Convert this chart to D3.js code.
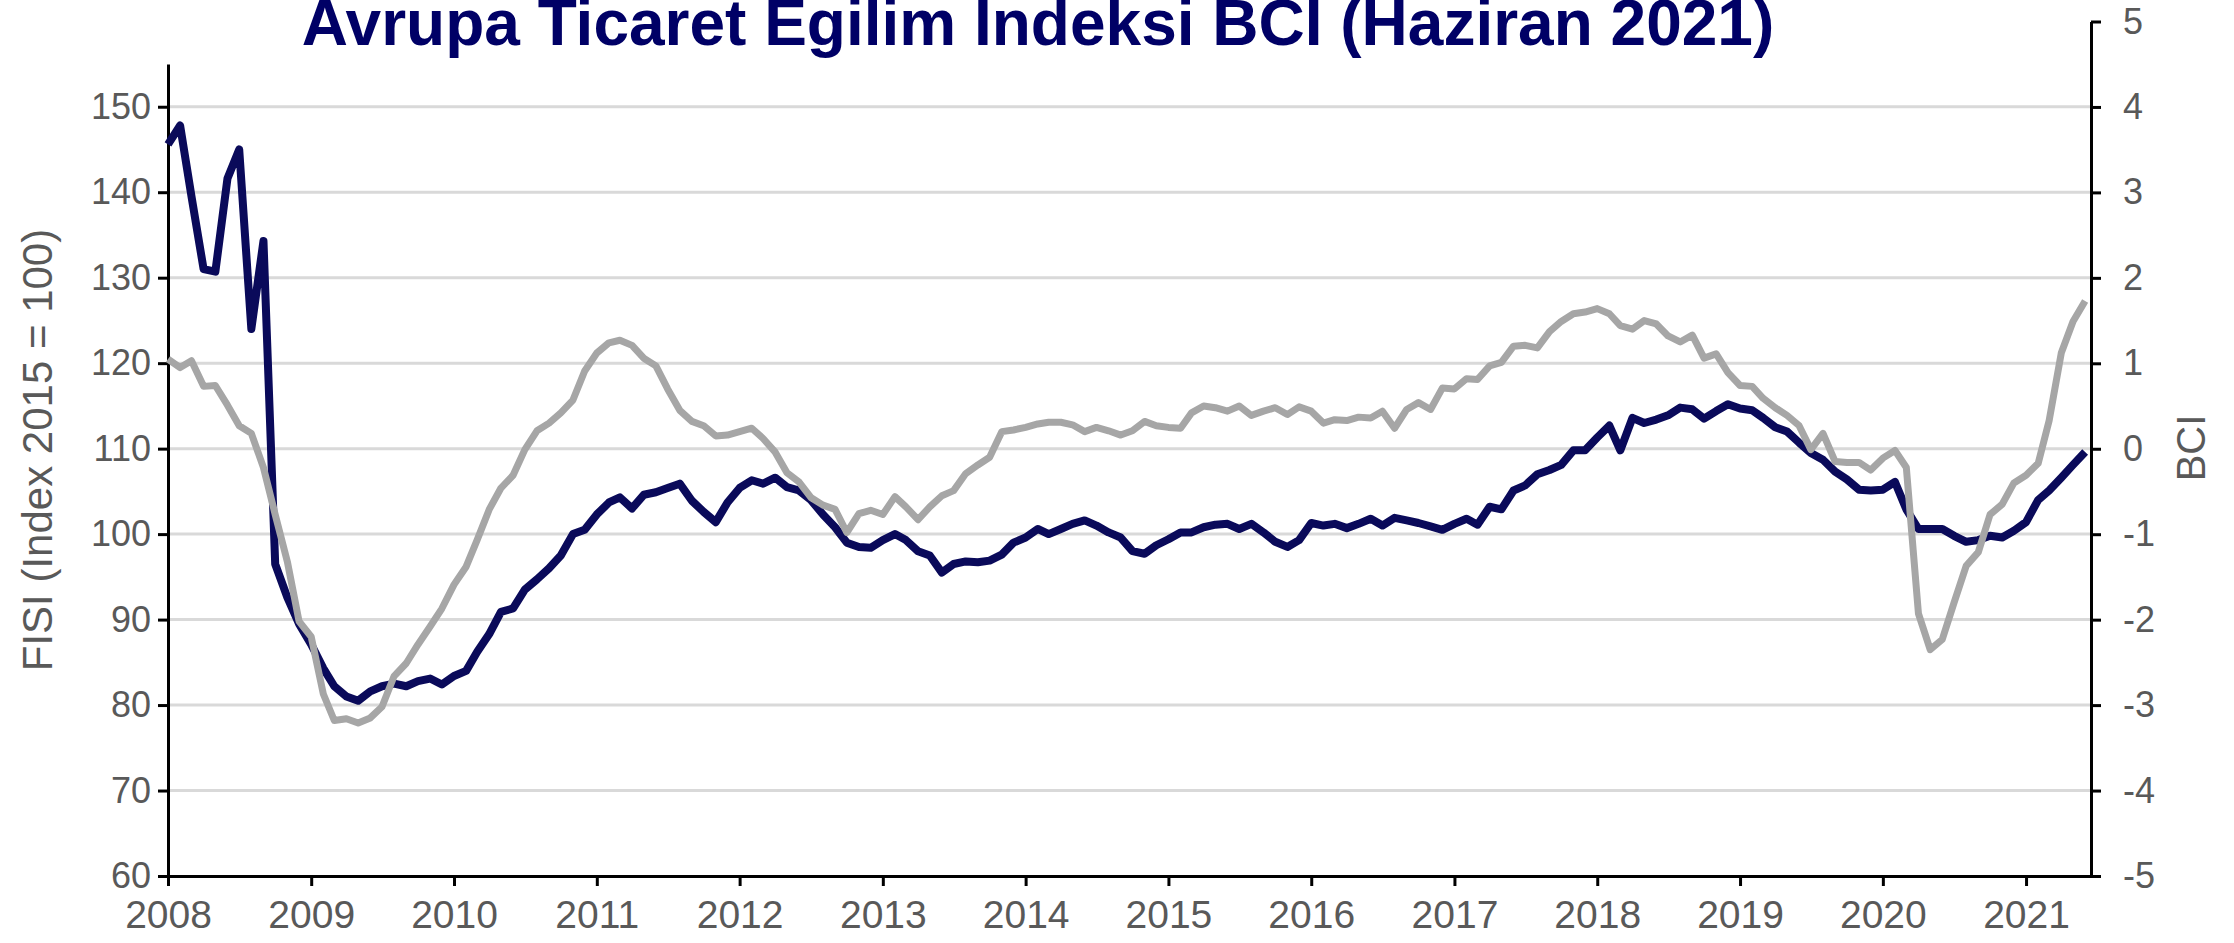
<!DOCTYPE html>
<html>
<head>
<meta charset="utf-8">
<script src="https://cdn.jsdelivr.net/npm/d3@7"></script>
<style>
  html, body { margin: 0; padding: 0; background: #fff; }
  svg { display: block; font-family: "Liberation Sans", Arial, sans-serif; }
</style>
</head>
<body>
<svg width="2234" height="943"></svg>
<script>
// Monthly observations, Jan 2008 .. Jun 2021
const months = d3.timeMonth.range(new Date(2008, 0, 1), new Date(2021, 6, 1));

// FISI (Index 2015 = 100), left axis
const fisi = [
    145.6, 147.8, 139.5, 131.0, 130.7, 141.6, 145.0, 124.0, 134.3, 96.5, 92.6, 89.5,
    87.1, 84.3, 82.2, 81.0, 80.5, 81.6, 82.2, 82.5, 82.2, 82.8, 83.1, 82.4,
    83.4, 84.0, 86.2, 88.3, 90.9, 91.3, 93.5, 94.7, 96.0, 97.5, 100.0, 100.5,
    102.3, 103.7, 104.3, 103.0, 104.6, 104.9, 105.4, 105.9, 103.9, 102.6, 101.4, 103.7,
    105.4, 106.3, 105.9, 106.6, 105.5, 105.1, 104.0, 102.3, 100.8, 99.0, 98.5, 98.4,
    99.3, 100.0, 99.3, 98.0, 97.5, 95.5, 96.5, 96.8, 96.7, 96.9, 97.6, 99.0,
    99.6, 100.6, 100.0, 100.6, 101.2, 101.6, 101.0, 100.2, 99.6, 98.0, 97.7, 98.7,
    99.4, 100.2, 100.2, 100.8, 101.1, 101.2, 100.6, 101.2, 100.2, 99.1, 98.5, 99.3,
    101.3, 101.0, 101.2, 100.7, 101.2, 101.8, 101.0, 101.9, 101.6, 101.3, 100.9, 100.5,
    101.2, 101.8, 101.1, 103.2, 102.9, 105.1, 105.7, 107.0, 107.5, 108.1, 109.8, 109.8,
    111.3, 112.7, 109.8, 113.6, 113.0, 113.4, 113.9, 114.8, 114.6, 113.5, 114.4, 115.2,
    114.7, 114.5, 113.6, 112.5, 112.0, 110.7, 109.5, 108.7, 107.3, 106.4, 105.2, 105.1,
    105.2, 106.1, 102.9, 100.6, 100.6, 100.6, 99.8, 99.1, 99.3, 99.8, 99.6, 100.4,
    101.4, 104.0, 105.1, 106.6, 108.1, 109.6
];

// BCI, right axis
const bci = [
    1.05, 0.95, 1.03, 0.73, 0.74, 0.51, 0.27, 0.18, -0.22, -0.77, -1.32, -2.02,
    -2.20, -2.87, -3.18, -3.16, -3.21, -3.15, -3.02, -2.66, -2.51, -2.29, -2.08, -1.87,
    -1.59, -1.38, -1.07, -0.71, -0.46, -0.31, -0.01, 0.21, 0.30, 0.42, 0.57, 0.91,
    1.12, 1.24, 1.27, 1.21, 1.06, 0.97, 0.70, 0.45, 0.32, 0.27, 0.15, 0.16,
    0.20, 0.24, 0.12, -0.04, -0.28, -0.39, -0.57, -0.66, -0.71, -0.98, -0.76, -0.72,
    -0.77, -0.56, -0.68, -0.83, -0.68, -0.55, -0.49, -0.29, -0.19, -0.10, 0.20, 0.22,
    0.25, 0.29, 0.31, 0.31, 0.28, 0.20, 0.25, 0.21, 0.16, 0.21, 0.32, 0.27,
    0.25, 0.24, 0.42, 0.50, 0.48, 0.44, 0.50, 0.39, 0.44, 0.48, 0.40, 0.49,
    0.44, 0.30, 0.34, 0.33, 0.37, 0.36, 0.44, 0.24, 0.46, 0.54, 0.46, 0.71,
    0.70, 0.82, 0.81, 0.97, 1.01, 1.20, 1.21, 1.18, 1.37, 1.49, 1.58, 1.60,
    1.64, 1.58, 1.44, 1.40, 1.50, 1.46, 1.32, 1.25, 1.33, 1.06, 1.11, 0.89,
    0.74, 0.73, 0.59, 0.48, 0.39, 0.27, -0.01, 0.18, -0.15, -0.16, -0.16, -0.25,
    -0.11, -0.02, -0.22, -1.93, -2.35, -2.23, -1.80, -1.37, -1.21, -0.77, -0.65, -0.40,
    -0.31, -0.17, 0.33, 1.12, 1.49, 1.73
];

const leftTicks = d3.range(60, 151, 10);
const rightTicks = d3.range(-5, 6, 1);
const yearTicks = d3.range(2008, 2022).map(y => new Date(y, 0, 1));

const title = "Avrupa Ticaret Egilim Indeksi BCI (Haziran 2021)";
const leftTitle = "FISI (Index 2015 = 100)";
const rightTitle = "BCI";

const svg = d3.select("svg");
const labelColor = "#595959";

const x = d3.scaleTime()
    .domain([new Date(2008, 0, 1), new Date(2021, 5, 16)])
    .range([168, 2091]);
const yL = d3.scaleLinear().domain([60, 155]).range([876, 64]);
const yR = d3.scaleLinear().domain([-5, 5]).range([876, 21.5]);

// gridlines
svg.append("g")
    .selectAll("line")
    .data(leftTicks.filter(d => d > 60))
    .join("line")
    .attr("x1", x.range()[0])
    .attr("x2", x.range()[1])
    .attr("y1", d => yL(d))
    .attr("y2", d => yL(d))
    .attr("stroke", "#d9d9d9")
    .attr("stroke-width", 3);

const styleAxis = (g, size) => {
    g.select(".domain").attr("stroke", "#000").attr("stroke-width", 3);
    g.selectAll(".tick line").attr("stroke", "#000").attr("stroke-width", 3);
    g.selectAll(".tick text")
        .attr("fill", labelColor)
        .style("font-size", `${size}px`);
};

svg.append("g")
    .attr("transform", `translate(${x.range()[0]},0)`)
    .call(d3.axisLeft(yL).tickValues(leftTicks).tickSize(10).tickSizeOuter(0).tickPadding(7))
    .call(g => styleAxis(g, 36));

svg.append("g")
    .attr("transform", `translate(${x.range()[1]},0)`)
    .call(d3.axisRight(yR).tickValues(rightTicks).tickSize(10).tickSizeOuter(0).tickPadding(22)
        .tickFormat(d3.format("d")))
    .call(g => styleAxis(g, 36))
    .call(g => g.selectAll(".tick text").text(d => (d < 0 ? "-" + Math.abs(d) : d)));

svg.append("g")
    .attr("transform", `translate(0,${yL.range()[0]})`)
    .call(d3.axisBottom(x).tickValues(yearTicks).tickSize(10).tickSizeOuter(0).tickPadding(14)
        .tickFormat(d3.timeFormat("%Y")))
    .call(g => styleAxis(g, 39));

// series
const lineL = d3.line().x((d, i) => x(months[i])).y(d => yL(d));
const lineR = d3.line().x((d, i) => x(months[i])).y(d => yR(d));

svg.append("path")
    .datum(fisi)
    .attr("d", lineL)
    .attr("fill", "none")
    .attr("stroke", "#0a0a5a")
    .attr("stroke-width", 8)
    .attr("stroke-linejoin", "round");

svg.append("path")
    .datum(bci)
    .attr("d", lineR)
    .attr("fill", "none")
    .attr("stroke", "#a6a6a6")
    .attr("stroke-width", 7)
    .attr("stroke-linejoin", "round");

// titles
svg.append("text")
    .attr("x", 1038)
    .attr("y", 45)
    .attr("text-anchor", "middle")
    .attr("fill", "#000066")
    .style("font-size", "64px")
    .style("font-weight", "bold")
    .text(title);

svg.append("text")
    .attr("transform", "translate(52,450) rotate(-90)")
    .attr("text-anchor", "middle")
    .attr("fill", labelColor)
    .style("font-size", "42px")
    .text(leftTitle);

svg.append("text")
    .attr("transform", "translate(2205,448) rotate(-90)")
    .attr("text-anchor", "middle")
    .attr("fill", labelColor)
    .style("font-size", "40px")
    .text(rightTitle);
</script>
</body>
</html>
